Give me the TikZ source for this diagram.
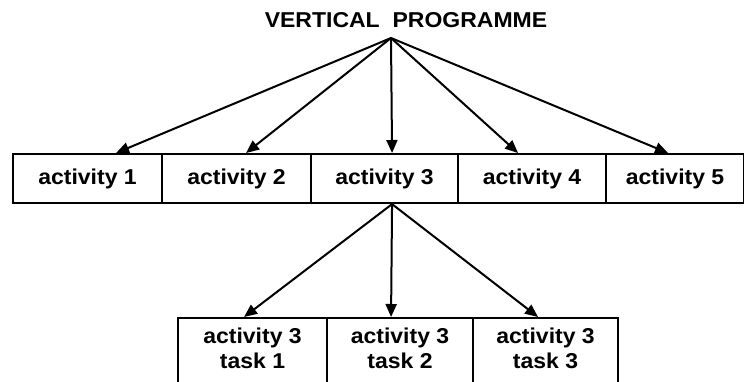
\documentclass[tikz,border=0pt]{standalone}
\usepackage{fontspec}
\setmainfont{Liberation Sans}[FakeStretch=1.07]
\usetikzlibrary{arrows.meta}
\begin{document}
\begin{tikzpicture}[x=1pt,y=-1pt,
    every node/.style={font=\fontsize{21.5}{25}\selectfont\bfseries, inner sep=0pt},
    actbox/.style={draw, line width=2.1pt, minimum height=49pt, anchor=north west},
    taskbox/.style={draw, line width=2.1pt, minimum height=90pt, anchor=north west},
    label/.style={align=center},
    link/.style={line width=2pt, -{Triangle[length=13pt,width=11pt]}}]
  \clip (0,0) rectangle (744,381);
  \useasboundingbox (0,0) rectangle (744,381);

  % title and the point the arrows fan out from
  \node[label] (title) at (406,20.5) {VERTICAL\ \ PROGRAMME};
  \coordinate (apex) at (391,38);

  % row of activities
  \node[actbox, minimum width=149pt] (a1) at (12,153) {};
  \node[actbox, minimum width=149pt] (a2) at (161,153) {};
  \node[actbox, minimum width=147pt] (a3) at (310,153) {};
  \node[actbox, minimum width=148pt] (a4) at (457,153) {};
  \node[actbox, minimum width=138pt] (a5) at (605,153) {};
  \node[label] (t1) at (a1.center) {activity 1};
  \node[label] (t2) at (a2.center) {activity 2};
  \node[label] (t3) at (a3.center) {activity 3};
  \node[label] (t4) at (a4.center) {activity 4};
  \node[label] (t5) at (a5.center) {activity 5};

  % tasks of activity 3
  \node[taskbox, minimum width=149pt] (b1) at (177,317) {};
  \node[taskbox, minimum width=146pt] (b2) at (326,317) {};
  \node[taskbox, minimum width=145pt] (b3) at (472,317) {};
  \node[label] (u1) at ([yshift=-31pt]b1.north) {activity 3\\task 1};
  \node[label] (u2) at ([yshift=-31pt]b2.north) {activity 3\\task 2};
  \node[label] (u3) at ([yshift=-31pt]b3.north) {activity 3\\task 3};

  % connectors
  \draw[link] (apex) -- ([xshift=28.5pt]a1.north);
  \draw[link] (apex) -- ([xshift=9.5pt]a2.north);
  \draw[link] (apex) -- ([xshift=7.5pt]a3.north);
  \draw[link] (apex) -- ([xshift=-14pt]a4.north);
  \draw[link] (apex) -- ([xshift=-7pt]a5.north);

  \coordinate (split) at ([xshift=7.5pt]a3.south);
  \draw[link] (split) -- ([xshift=-8.5pt]b1.north);
  \draw[link] (split) -- ([xshift=-9pt]b2.north);
  \draw[link] (split) -- ([xshift=-7.5pt]b3.north);
\end{tikzpicture}
\end{document}
